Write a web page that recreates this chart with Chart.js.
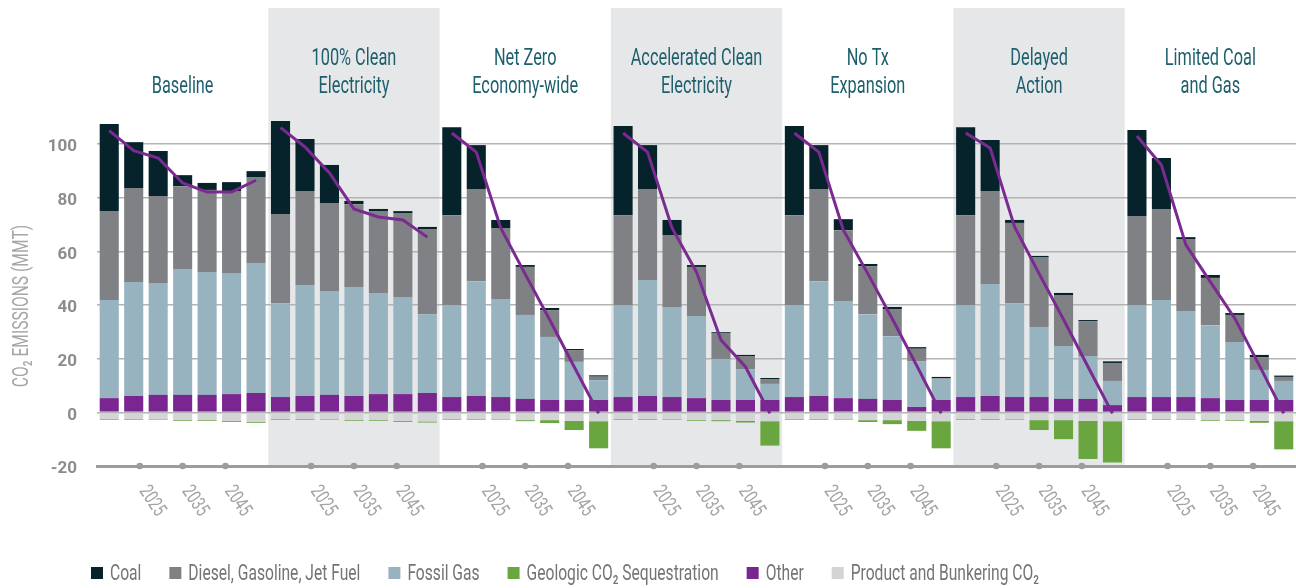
<!DOCTYPE html>
<html>
<head>
<meta charset="utf-8">
<script src="https://cdn.jsdelivr.net/npm/chart.js@4.4.1/dist/chart.umd.min.js"></script>
<style>
  html, body { margin: 0; padding: 0; background: #ffffff; }
  #wrap { position: relative; width: 1296px; height: 588px; }
  canvas { display: block; }
</style>
</head>
<body>
<div id="wrap"><canvas id="chart" width="1296" height="588"></canvas></div>
<script>
// ---------------- DATA ----------------
const scenarios = [
  ['Baseline'],
  ['100% Clean', 'Electricity'],
  ['Net Zero', 'Economy-wide'],
  ['Accelerated Clean', 'Electricity'],
  ['No Tx', 'Expansion'],
  ['Delayed', 'Action'],
  ['Limited Coal', 'and Gas']
];
const years = ['2020', '2025', '2030', '2035', '2040', '2045', '2050'];
const tickYears = ['2025', '2035', '2045'];
const yTicks = [-20, 0, 20, 40, 60, 80, 100];

const coal = [
  32.5, 17.1, 16.8, 4.1, 2.6, 3.3, 2.2,
  34.7, 19.4, 14.2, 1.2, 0.8, 0.7, 0.8,
  32.8, 16.4, 3.0, 0.7, 0.8, 0.4, 0.5,
  33.2, 16.4, 5.6, 0.7, 0.3, 0.4, 0.4,
  33.2, 16.4, 4.1, 0.8, 0.8, 0.6, 0.4,
  32.8, 19.0, 1.1, 0.4, 0.8, 0.4, 0.6,
  32.0, 19.0, 0.7, 1.1, 0.7, 0.8, 0.5
];
const diesel = [
  33.1, 35.0, 32.4, 30.9, 30.6, 30.6, 32.0,
  33.2, 35.0, 32.8, 30.9, 30.5, 31.3, 31.7,
  33.5, 34.3, 26.5, 17.9, 10.0, 4.4, 1.3,
  33.5, 33.9, 26.8, 18.3, 9.7, 4.9, 1.8,
  33.5, 34.3, 26.4, 17.9, 10.1, 4.6, 0.3,
  33.5, 34.7, 29.9, 26.1, 19.0, 13.0, 6.7,
  33.2, 33.9, 26.8, 17.6, 10.1, 4.8, 1.5
];
const fossilGas = [
  36.6, 42.5, 41.7, 46.9, 45.8, 45.1, 48.5,
  35.0, 41.4, 38.7, 40.6, 37.7, 36.2, 29.4,
  34.3, 42.8, 36.5, 31.3, 23.5, 14.2, 7.4,
  34.3, 43.2, 33.6, 30.6, 15.3, 11.5, 6.0,
  34.3, 42.8, 36.2, 31.6, 23.8, 17.1, 7.9,
  34.3, 41.7, 35.0, 26.1, 19.7, 16.0, 9.0,
  34.3, 36.2, 32.1, 27.2, 21.6, 11.2, 7.1
];
const sequestration = [
  -0.25, -0.25, -0.25, -0.3, -0.3, -0.35, -0.4,
  -0.25, -0.25, -0.25, -0.3, -0.3, -0.35, -0.4,
  -0.25, -0.25, -0.25, -0.4, -1.1, -3.4, -10.1,
  -0.25, -0.25, -0.25, -0.3, -0.4, -0.6, -9.1,
  -0.25, -0.25, -0.25, -0.7, -1.5, -3.7, -10.1,
  -0.25, -0.25, -0.25, -3.7, -7.1, -14.2, -15.4,
  -0.25, -0.25, -0.25, -0.3, -0.3, -0.7, -10.5
];
const other = [
  5.3, 6.1, 6.5, 6.5, 6.5, 6.8, 7.2,
  5.7, 6.1, 6.5, 6.1, 6.8, 6.8, 7.2,
  5.7, 6.1, 5.7, 5.0, 4.6, 4.6, 4.6,
  5.7, 6.1, 5.7, 5.3, 4.6, 4.6, 4.6,
  5.7, 6.1, 5.3, 5.0, 4.6, 2.0, 4.6,
  5.7, 6.1, 5.7, 5.7, 5.0, 5.0, 2.7,
  5.7, 5.7, 5.7, 5.3, 4.6, 4.6, 4.6
];
const productBunkering = [
  -2.5, -2.5, -2.6, -2.9, -2.9, -3.2, -3.5,
  -2.5, -2.5, -2.6, -2.9, -2.9, -3.2, -3.4,
  -2.5, -2.5, -2.6, -2.9, -2.9, -3.2, -3.3,
  -2.5, -2.5, -2.6, -2.9, -2.9, -3.2, -3.3,
  -2.5, -2.5, -2.6, -2.9, -2.9, -3.2, -3.3,
  -2.5, -2.5, -2.6, -2.9, -2.9, -3.2, -3.3,
  -2.5, -2.5, -2.6, -2.9, -2.9, -3.2, -3.3
];
const netEmissions = [
  105.0, 97.5, 94.8, 85.5, 82.1, 82.1, 86.5,
  106.1, 98.9, 89.2, 75.8, 72.8, 71.7, 65.3,
  104.1, 97.0, 68.7, 51.5, 34.5, 17.0, -0.4,
  104.1, 97.0, 68.7, 52.3, 27.0, 17.0, -0.4,
  104.1, 97.0, 68.0, 51.7, 34.9, 17.4, -0.4,
  104.1, 98.5, 69.1, 51.7, 34.6, 17.0, -0.4,
  103.0, 92.2, 62.4, 48.6, 35.0, 17.5, -0.4
];

const seriesNames = ['Coal', 'Diesel, Gasoline, Jet Fuel', 'Fossil Gas', 'Geologic CO\u2082 Sequestration', 'Other', 'Product and Bunkering CO\u2082'];

// ---------------- STYLE ----------------
const COLORS = {
  coal: '#06232b',
  diesel: '#808184',
  gas: '#97b3bf',
  seq: '#6aa640',
  other: '#7a2691',
  product: '#d3d4d5',
  line: '#7b2a92',
  band: '#e6e7e9',
  grid: '#b3b3b3',
  axis: '#9c9c9c',
  title: '#1e5f6d',
  tick: '#8c8c8c',
  legendText: '#747474'
};
const FONT = "Roboto, 'DejaVu Sans Condensed', sans-serif";
const CX = 0.71; // horizontal condensing of custom-drawn text

const nPer = years.length;
const labels = [];
scenarios.forEach(s => years.forEach(y => labels.push(s.join(' ') + ' ' + y)));

function condText(ctx, text, x, y, align) {
  ctx.save();
  ctx.translate(x, y);
  ctx.scale(CX, 1);
  ctx.textAlign = align;
  ctx.fillText(text, 0, 0);
  ctx.restore();
}

const decorPlugin = {
  id: 'decor',
  beforeDraw(chart) {
    const { ctx, chartArea, scales } = chart;
    const xs = scales.x;
    ctx.save();
    ctx.fillStyle = COLORS.band;
    scenarios.forEach((s, g) => {
      if (g % 2 === 1) {
        const x0 = xs.getPixelForValue(g * nPer - 0.5);
        const x1 = xs.getPixelForValue(g * nPer + nPer - 0.5);
        ctx.fillRect(x0, chartArea.top, x1 - x0, chartArea.bottom - chartArea.top);
      }
    });
    ctx.restore();
  },
  afterDraw(chart) {
    const { ctx, chartArea, scales } = chart;
    const xs = scales.x;
    ctx.save();
    // scenario titles
    ctx.fillStyle = COLORS.title;
    ctx.font = "23px " + FONT;
    ctx.textBaseline = 'alphabetic';
    scenarios.forEach((lines, g) => {
      const cx = (xs.getPixelForValue(g * nPer - 0.5) + xs.getPixelForValue(g * nPer + nPer - 0.5)) / 2;
      const last = 93;
      lines.forEach((t, i) => {
        const y = last - (lines.length - 1 - i) * 28.5;
        condText(ctx, t, cx, y, 'center');
      });
    });
    // year ticks: dots + rotated labels (each group spans 2015..2055)
    const yb = chartArea.bottom;
    scenarios.forEach((s, g) => {
      const x0 = xs.getPixelForValue(g * nPer - 0.5);
      const x1 = xs.getPixelForValue(g * nPer + nPer - 0.5);
      tickYears.forEach(ty => {
        const f = (parseInt(ty, 10) - 2015) / 40;
        const px = x0 + f * (x1 - x0);
        ctx.fillStyle = COLORS.axis;
        ctx.beginPath();
        ctx.arc(px, yb, 3.3, 0, Math.PI * 2);
        ctx.fill();
        ctx.save();
        ctx.translate(px + 3, yb + 22);
        ctx.rotate(56 * Math.PI / 180);
        ctx.scale(CX, 1);
        ctx.fillStyle = '#a3a3a3';
        ctx.font = "20px " + FONT;
        ctx.textAlign = 'left';
        ctx.textBaseline = 'middle';
        ctx.fillText(ty, 0, 0);
        ctx.restore();
      });
    });
    // y-axis title
    ctx.save();
    ctx.translate(22, 306);
    ctx.rotate(-Math.PI / 2);
    ctx.scale(CX, 1);
    ctx.fillStyle = '#a6a6a6';
    ctx.font = "22px " + FONT;
    ctx.textAlign = 'center';
    ctx.textBaseline = 'middle';
    ctx.fillText('CO\u2082 EMISSIONS (MMT)', 0, 0);
    ctx.restore();
    // legend
    const legendColors = [COLORS.coal, COLORS.diesel, COLORS.gas, COLORS.seq, COLORS.other, COLORS.product];
    let lx = 91;
    const ly = 573;
    ctx.font = "22px " + FONT;
    ctx.textBaseline = 'middle';
    seriesNames.forEach((name, i) => {
      ctx.fillStyle = legendColors[i];
      ctx.fillRect(lx, ly - 6, 12, 12);
      ctx.fillStyle = COLORS.legendText;
      condText(ctx, name, lx + 19, ly + 1, 'left');
      lx += 19 + ctx.measureText(name).width * CX + 28;
    });
    ctx.restore();
  }
};

const barBase = { type: 'bar', stack: 'emis', barPercentage: 0.78, categoryPercentage: 1.0, borderWidth: 0 };

new Chart(document.getElementById('chart'), {
  data: {
    labels: labels,
    datasets: [
      {
        type: 'line', label: 'Net', data: netEmissions, stack: 'net',
        borderColor: COLORS.line, borderWidth: 3, pointRadius: 0, tension: 0,
        segment: { borderColor: c => (c.p0DataIndex % nPer === nPer - 1) ? 'rgba(0,0,0,0)' : COLORS.line }
      },
      Object.assign({ label: seriesNames[4], data: other, backgroundColor: COLORS.other }, barBase),
      Object.assign({ label: seriesNames[2], data: fossilGas, backgroundColor: COLORS.gas }, barBase),
      Object.assign({ label: seriesNames[1], data: diesel, backgroundColor: COLORS.diesel }, barBase),
      Object.assign({ label: seriesNames[0], data: coal, backgroundColor: COLORS.coal }, barBase),
      Object.assign({ label: seriesNames[5], data: productBunkering, backgroundColor: COLORS.product }, barBase),
      Object.assign({ label: seriesNames[3], data: sequestration, backgroundColor: COLORS.seq }, barBase)
    ]
  },
  options: {
    responsive: false,
    animation: false,
    devicePixelRatio: 1,
    layout: { padding: { top: 8, left: 0, right: 0, bottom: 0 } },
    plugins: { legend: { display: false }, tooltip: { enabled: false } },
    scales: {
      x: {
        stacked: true,
        ticks: { display: false },
        grid: { display: false },
        border: { display: true, color: COLORS.axis, width: 3 },
        afterFit(scale) { scale.height = 122; scale.paddingLeft = 0; scale.paddingRight = 0; }
      },
      y: {
        stacked: true,
        min: -20,
        max: 150.7,
        afterBuildTicks(scale) { scale.ticks = yTicks.map(v => ({ value: v })); },
        ticks: {
          color: COLORS.tick,
          font: { family: FONT, size: 17, weight: 'bold' },
          padding: 20,
          labelOffset: 3
        },
        grid: {
          drawTicks: false,
          lineWidth: 1.5,
          color: c => (c.tick && c.tick.value === -20) ? 'rgba(0,0,0,0)' : COLORS.grid
        },
        border: { display: false },
        afterFit(scale) { scale.width = 97; scale.paddingTop = 0; scale.paddingBottom = 0; }
      }
    }
  },
  plugins: [decorPlugin]
});
</script>
</body>
</html>
